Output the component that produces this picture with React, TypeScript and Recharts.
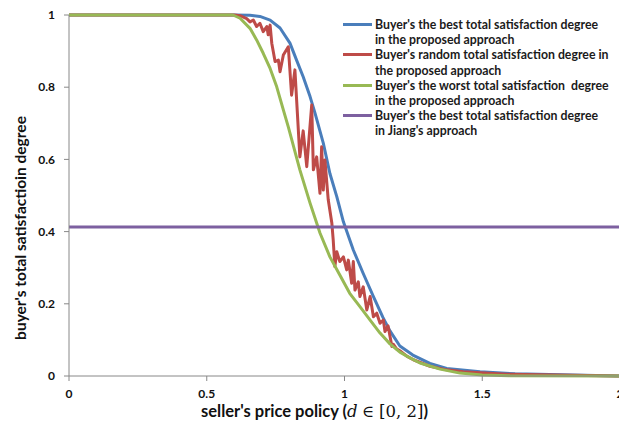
import { LineChart, Line, XAxis, YAxis, Legend, Label } from 'recharts'

// price policy d -> satisfaction degree
const bestCurve: [number, number][] = [
  [0, 1], [0.6, 1], [0.657, 0.999], [0.693, 0.996], [0.73, 0.986], [0.766, 0.964],
  [0.802, 0.922], [0.826, 0.875], [0.85, 0.829], [0.875, 0.774], [0.893, 0.728],
  [0.923, 0.645], [0.947, 0.561], [0.972, 0.497], [0.996, 0.427], [1.032, 0.349],
  [1.068, 0.284], [1.105, 0.22], [1.139, 0.163], [1.165, 0.125], [1.201, 0.083],
  [1.248, 0.058], [1.31, 0.035], [1.371, 0.021], [1.492, 0.012], [1.619, 0.006],
  [2, 0],
]

const randomCurve: [number, number][] = [
  [0, 1], [0.6, 1], [0.621, 0.998], [0.645, 0.99], [0.657, 0.981], [0.669, 0.986],
  [0.681, 0.968], [0.693, 0.977], [0.705, 0.954], [0.718, 0.968], [0.723, 0.945],
  [0.73, 0.972], [0.736, 0.922], [0.748, 0.871], [0.76, 0.875], [0.766, 0.843],
  [0.778, 0.889], [0.796, 0.912], [0.808, 0.778], [0.82, 0.848], [0.838, 0.607],
  [0.85, 0.679], [0.863, 0.58], [0.881, 0.751], [0.887, 0.571], [0.899, 0.607],
  [0.911, 0.506], [0.917, 0.635], [0.923, 0.515], [0.929, 0.598], [0.941, 0.488],
  [0.954, 0.424], [0.959, 0.377], [0.965, 0.303], [0.972, 0.344], [0.983, 0.317],
  [0.996, 0.33], [1.008, 0.294], [1.014, 0.321], [1.026, 0.257], [1.032, 0.317],
  [1.038, 0.238], [1.05, 0.261], [1.056, 0.22], [1.068, 0.247], [1.081, 0.183],
  [1.093, 0.22], [1.105, 0.164], [1.117, 0.174], [1.129, 0.146], [1.141, 0.155],
  [1.147, 0.123], [1.158, 0.139], [1.172, 0.082], [1.177, 0.088], [1.189, 0.075],
  [1.201, 0.07], [1.226, 0.055], [1.25, 0.045], [1.31, 0.027], [1.371, 0.017],
  [1.431, 0.012], [1.492, 0.009], [1.589, 0.005], [2, 0],
]

const worstCurve: [number, number][] = [
  [0, 1], [0.595, 1], [0.621, 0.991], [0.657, 0.963], [0.681, 0.931], [0.705, 0.894],
  [0.73, 0.852], [0.754, 0.801], [0.778, 0.737], [0.796, 0.69], [0.838, 0.571],
  [0.875, 0.479], [0.911, 0.396], [0.947, 0.33], [0.983, 0.28], [1.019, 0.229],
  [1.056, 0.192], [1.093, 0.155], [1.129, 0.119], [1.165, 0.089], [1.201, 0.066],
  [1.238, 0.05], [1.274, 0.036], [1.347, 0.019], [1.419, 0.008], [1.5, 0.003],
  [1.6, 0.001], [2, 0],
]

const jiangCurve: [number, number][] = [[0, 0.413], [2, 0.413]]

const seriesNames = [
  ["Buyer's the best total satisfaction degree", 'in the proposed approach'],
  ["Buyer's random total satisfaction degree in", 'the proposed approach'],
  ["Buyer's the worst total satisfaction  degree", 'in the proposed approach'],
  ["Buyer's the best total satisfaction degree", "in Jiang's approach"],
]
const seriesColors = ['#4a7ebb', '#be4b48', '#98b954', '#7d60a0']

const xTicks = [0, 0.5, 1, 1.5, 2]
const yTicks = [0, 0.2, 0.4, 0.6, 0.8, 1]

const toPoints = (pts: [number, number][]) => pts.map(([d, v]) => ({ d, v }))

const FONT = 'Lato, "Open Sans", sans-serif'

function LegendBox() {
  return (
    <div style={{ fontFamily: FONT, fontWeight: 700, fontSize: 12.3, lineHeight: '15.2px', color: '#1b1b1b', textAlign: 'left' }}>
      {seriesNames.map((lines, i) => (
        <div key={i} style={{ position: 'relative', paddingLeft: 32, whiteSpace: 'pre' }}>
          <span
            style={{
              position: 'absolute', left: 0, top: 6, width: 29, height: 3,
              background: seriesColors[i],
            }}
          />
          <div>{lines[0]}</div>
          <div>{lines[1]}</div>
        </div>
      ))}
    </div>
  )
}

export default function App() {
  const series = [bestCurve, randomCurve, worstCurve, jiangCurve]
  const tickStyle = { fill: '#111', fontSize: 12, fontWeight: 700, fontFamily: FONT }

  return (
    <div style={{ position: 'fixed', left: 0, top: 0, width: 619, height: 425, overflow: 'hidden', background: '#fff' }}>
      <LineChart width={660} height={425} margin={{ top: 15, right: 40, bottom: 0, left: 0 }}>
        <XAxis
          dataKey="d"
          type="number"
          domain={[0, 2]}
          ticks={xTicks}
          tick={tickStyle}
          tickLine={{ stroke: '#888' }}
          axisLine={{ stroke: '#888' }}
          tickSize={5}
          tickMargin={8}
          height={49}
          interval={0}
        >
          <Label
            content={({ viewBox }: any) => (
              <text
                x={viewBox.x + viewBox.width / 2 - 30}
                y={viewBox.y + 41}
                textAnchor="middle"
                fontFamily={FONT}
                fontWeight={700}
                fontSize={16.5}
                fill="#111"
              >
                seller's price policy (<tspan fontStyle="italic" fontWeight={400} fontFamily="'DejaVu Serif', serif">d</tspan> <tspan fontWeight={400} fontFamily="'DejaVu Serif', serif">∈ [0, 2]</tspan>)
              </text>
            )}
          />
        </XAxis>
        <YAxis
          type="number"
          domain={[0, 1]}
          ticks={yTicks}
          tick={tickStyle}
          tickLine={{ stroke: '#888' }}
          axisLine={{ stroke: '#888' }}
          tickSize={5}
          tickMargin={9}
          width={69}
          interval={0}
        >
          <Label
            content={() => (
              <text
                x={20}
                y={228}
                transform="rotate(-90 20 228)"
                textAnchor="middle"
                dominantBaseline="central"
                fontFamily={FONT}
                fontWeight={700}
                fontSize={15.5}
                fill="#111"
              >
                buyer's total satisfactioin degree
              </text>
            )}
          />
        </YAxis>
        <Legend
          layout="horizontal"
          verticalAlign="middle"
          align="center"
          content={() => <LegendBox />}
          wrapperStyle={{ position: 'absolute', left: 343, top: 17, width: 290, height: 130 }}
        />
        {series.map((pts, i) => (
          <Line
            key={i}
            data={toPoints(pts)}
            dataKey="v"
            name={seriesNames[i].join(' ')}
            type="linear"
            stroke={seriesColors[i]}
            strokeWidth={3}
            strokeLinejoin="round"
            dot={false}
            activeDot={false}
            isAnimationActive={false}
          />
        ))}
      </LineChart>
    </div>
  )
}
